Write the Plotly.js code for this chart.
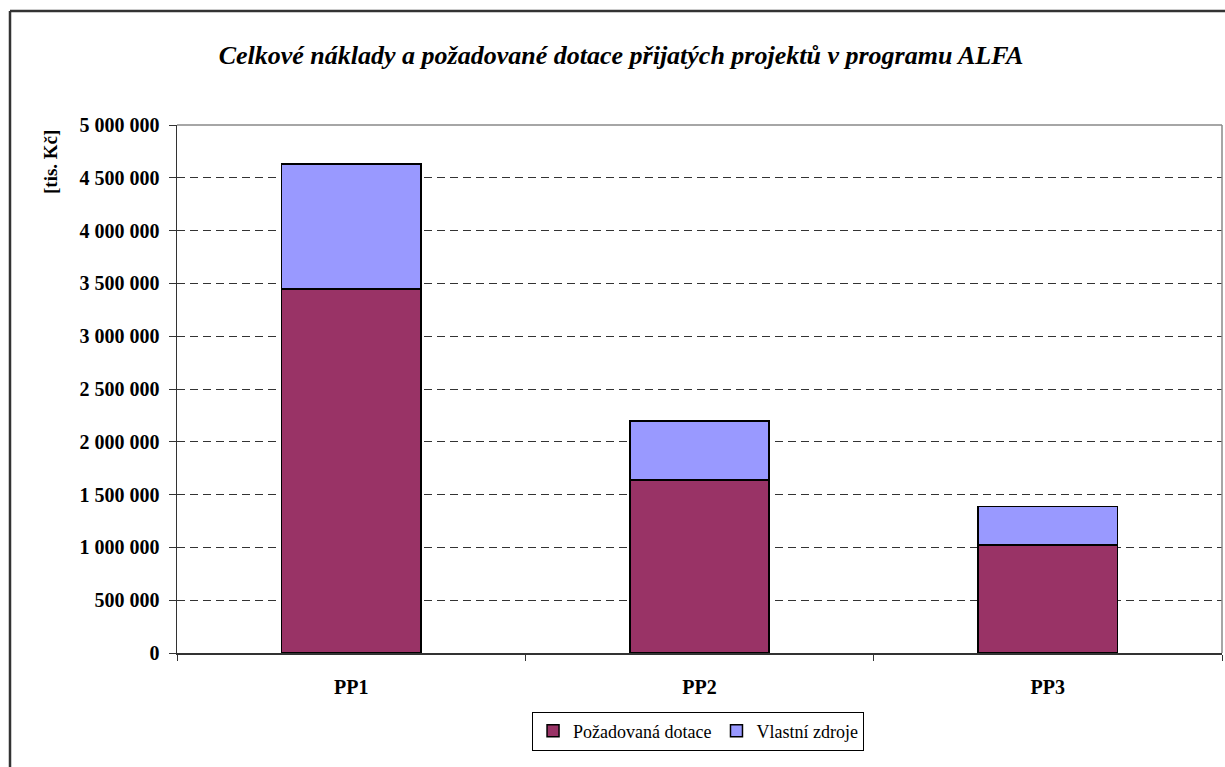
<!DOCTYPE html>
<html>
<head>
<meta charset="utf-8">
<script src="https://cdn.plot.ly/plotly-3.0.1.min.js"></script>
<style>
  html, body { margin: 0; padding: 0; background: #fff; }
  #chart { width: 1225px; height: 767px; }
</style>
</head>
<body>
<div id="chart"></div>
<script>
const categories = ["PP1", "PP2", "PP3"];
const pozadovanaDotace = [3446000, 1638000, 1024000];
const vlastniZdroje = [1185000, 558000, 362000];
const seriesNames = ["Požadovaná dotace", "Vlastní zdroje"];
const chartTitle = "Celkové náklady a požadované dotace přijatých projektů v programu ALFA";
const yAxisLabel = "[tis. Kč]";

const serif = "'Liberation Serif', 'Times New Roman', serif";

const traces = [
  {
    type: "bar", name: seriesNames[0], x: categories, y: pozadovanaDotace,
    marker: { color: "#993366", line: { color: "#000000", width: 1.5 } },
    hoverinfo: "none"
  },
  {
    type: "bar", name: seriesNames[1], x: categories, y: vlastniZdroje,
    marker: { color: "#9999FF", line: { color: "#000000", width: 1.5 } },
    hoverinfo: "none"
  }
];

const layout = {
  width: 1225, height: 767,
  paper_bgcolor: "#ffffff", plot_bgcolor: "#ffffff",
  margin: { l: 177, r: 3, t: 125, b: 114, autoexpand: false },
  barmode: "stack",
  bargap: 0.6,
  separators: ", ",
  showlegend: true,
  font: { family: serif, color: "#000000" },
  title: {
    text: "<b><i>" + chartTitle + "</i></b>",
    font: { family: serif, size: 26, color: "#000000" },
    x: 0.507, xref: "container", xanchor: "center",
    y: 1 - 55 / 767, yref: "container", yanchor: "middle"
  },
  xaxis: {
    type: "category",
    showgrid: false,
    showline: true, linecolor: "#333333", linewidth: 1.5,
    ticks: "outside", tickson: "boundaries", ticklen: 6, tickcolor: "#333333", tickwidth: 1,
    tickfont: { family: serif, size: 20, color: "#000000", weight: "bold" },
    ticklabelstandoff: 15,
    zeroline: false, fixedrange: true
  },
  yaxis: {
    range: [0, 5000000], dtick: 500000, tick0: 0,
    tickformat: ",d",
    showgrid: true, gridcolor: "#333333", gridwidth: 1, griddash: "8px,5px",
    showline: true, linecolor: "#333333", linewidth: 1.5,
    ticks: "outside", ticklen: 7, tickcolor: "#333333", tickwidth: 1,
    tickfont: { family: serif, size: 20, color: "#000000", weight: "bold" },
    ticklabelstandoff: 5,
    zeroline: false, fixedrange: true
  },
  legend: {
    orientation: "h",
    x: 0.4986, xanchor: "center",
    y: -0.111, yanchor: "top",
    bordercolor: "#000000", borderwidth: 1, bgcolor: "#ffffff",
    font: { family: serif, size: 18, color: "#000000" },
    itemwidth: 30, traceorder: "normal"
  },
  annotations: [
    {
      text: "<b>" + yAxisLabel + "</b>",
      xref: "paper", yref: "paper",
      x: (50 - 177) / 1045, y: (653 - 162) / 528,
      xanchor: "center", yanchor: "middle",
      textangle: -90, showarrow: false,
      font: { family: serif, size: 19, color: "#000000" }
    }
  ],
  shapes: [
    { type: "line", xref: "paper", yref: "paper", x0: 0, x1: 1, y0: 1, y1: 1,
      line: { color: "#888888", width: 1.5 } },
    { type: "line", xref: "paper", yref: "paper", x0: 1, x1: 1, y0: 0, y1: 1,
      line: { color: "#888888", width: 1.5 } },
    { type: "line", xref: "paper", yref: "paper",
      x0: (10 - 177) / 1045, x1: 1.1, y0: 1 + (125 - 11) / 528, y1: 1 + (125 - 11) / 528,
      line: { color: "#333333", width: 2.5 } },
    { type: "line", xref: "paper", yref: "paper",
      x0: (10 - 177) / 1045, x1: (10 - 177) / 1045, y0: 1 + (125 - 11) / 528, y1: -0.5,
      line: { color: "#333333", width: 2.5 } }
  ]
};

Plotly.newPlot("chart", traces, layout, { displayModeBar: false, staticPlot: true });
</script>
</body>
</html>
